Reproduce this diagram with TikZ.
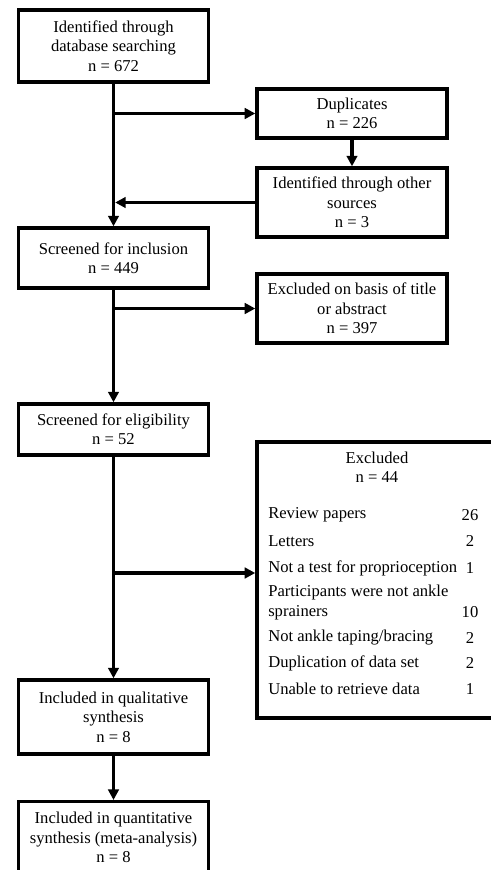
\documentclass[tikz,border=0pt]{standalone}
\usepackage{fontspec}
\setmainfont{Liberation Serif}
\usetikzlibrary{arrows.meta, calc, positioning}

\begin{document}
\begin{tikzpicture}[
    x=0.025cm, y=-0.025cm,
    >={Triangle[length=7.5pt, width=7.5pt]},
    block/.style={draw, rectangle, minimum width=4.75cm, align=center, font=\fontsize{11.8}{13.8}\selectfont, line width=2.4pt, fill=white, inner sep=2pt},
    flow/.style={->, line width=2.3pt},
    itemStyle/.style={anchor=west, inner sep=0pt, align=left, font=\fontsize{11.8}{13.8}\selectfont},
    countStyle/.style={inner sep=0pt, align=center, font=\fontsize{11.8}{13.8}\selectfont}
]
\clip (0,0) rectangle (491,870);

% ----------------------------------------------------
% Identification
% ----------------------------------------------------
\node[block, minimum height=1.8cm] (ident) at (113.5, 46) {Identified through\\database searching\\n = 672};
\node[block, minimum height=1.225cm] (dup) at (352, 113.5) {Duplicates\\n = 226};
\node[block, minimum height=1.725cm] (other) at (352, 202.5) {Identified through other\\sources\\n = 3};

% ----------------------------------------------------
% Screening
% ----------------------------------------------------
\node[block, minimum height=1.5cm] (screen) at (113.5, 258) {Screened for inclusion\\n = 449};
\node[block, minimum height=1.725cm] (extitle) at (352, 308.5) {Excluded on basis of title\\or abstract\\n = 397};

% ----------------------------------------------------
% Eligibility
% ----------------------------------------------------
\node[block, minimum height=1.275cm] (elig) at (113.5, 429.5) {Screened for eligibility\\n = 52};
\node[block, minimum width=6cm, minimum height=6.9cm] (excl) at (377, 580) {};
\node[countStyle] (exclhead) at (377, 467.5) {Excluded\\n = 44};

% Reasons and counts
\node[itemStyle] (r1) at (268, 515) {Review papers};
\node[itemStyle] (r2) at (268, 541) {Letters};
\node[itemStyle] (r3) at (268, 568) {Not a test for proprioception};
\node[itemStyle] (r4) at (268, 602.5) {Participants were not ankle\\sprainers};
\node[itemStyle] (r5) at (268, 638) {Not ankle taping/bracing};
\node[itemStyle] (r6) at (268, 663) {Duplication of data set};
\node[itemStyle] (r7) at (268, 689) {Unable to retrieve data};
\node[countStyle] (c1) at (470, 515) {26};
\node[countStyle] (c2) at (470, 541) {2};
\node[countStyle] (c3) at (470, 568) {1};
\node[countStyle] (c4) at (470, 612) {10};
\node[countStyle] (c5) at (470, 638) {2};
\node[countStyle] (c6) at (470, 663) {2};
\node[countStyle] (c7) at (470, 689) {1};

% ----------------------------------------------------
% Included
% ----------------------------------------------------
\node[block, minimum height=1.85cm] (qual) at (113.5, 717) {Included in qualitative\\synthesis\\n = 8};
\node[block, minimum height=1.8cm, anchor=north] (quant) at (113.5, 800) {Included in quantitative\\synthesis (meta-analysis)\\n = 8};

% Connectors
\draw[flow] (ident.south) -- (screen.north);
\draw[flow] (ident.south |- dup.west) -- (dup.west);
\draw[flow] (dup.south) -- (other.north);
\draw[flow, shorten >=1.2pt] (other.west) -- (other.west -| ident.south);

\draw[flow] (screen.south) -- (elig.north);
\draw[flow] (screen.south |- extitle.west) -- (extitle.west);

\coordinate (exsplit) at (113.5, 573);
\draw[flow] (elig.south) -- (qual.north);
\draw[flow] (exsplit) -- (exsplit -| excl.west);

\draw[flow] (qual.south) -- (quant.north);

\end{tikzpicture}
\end{document}
